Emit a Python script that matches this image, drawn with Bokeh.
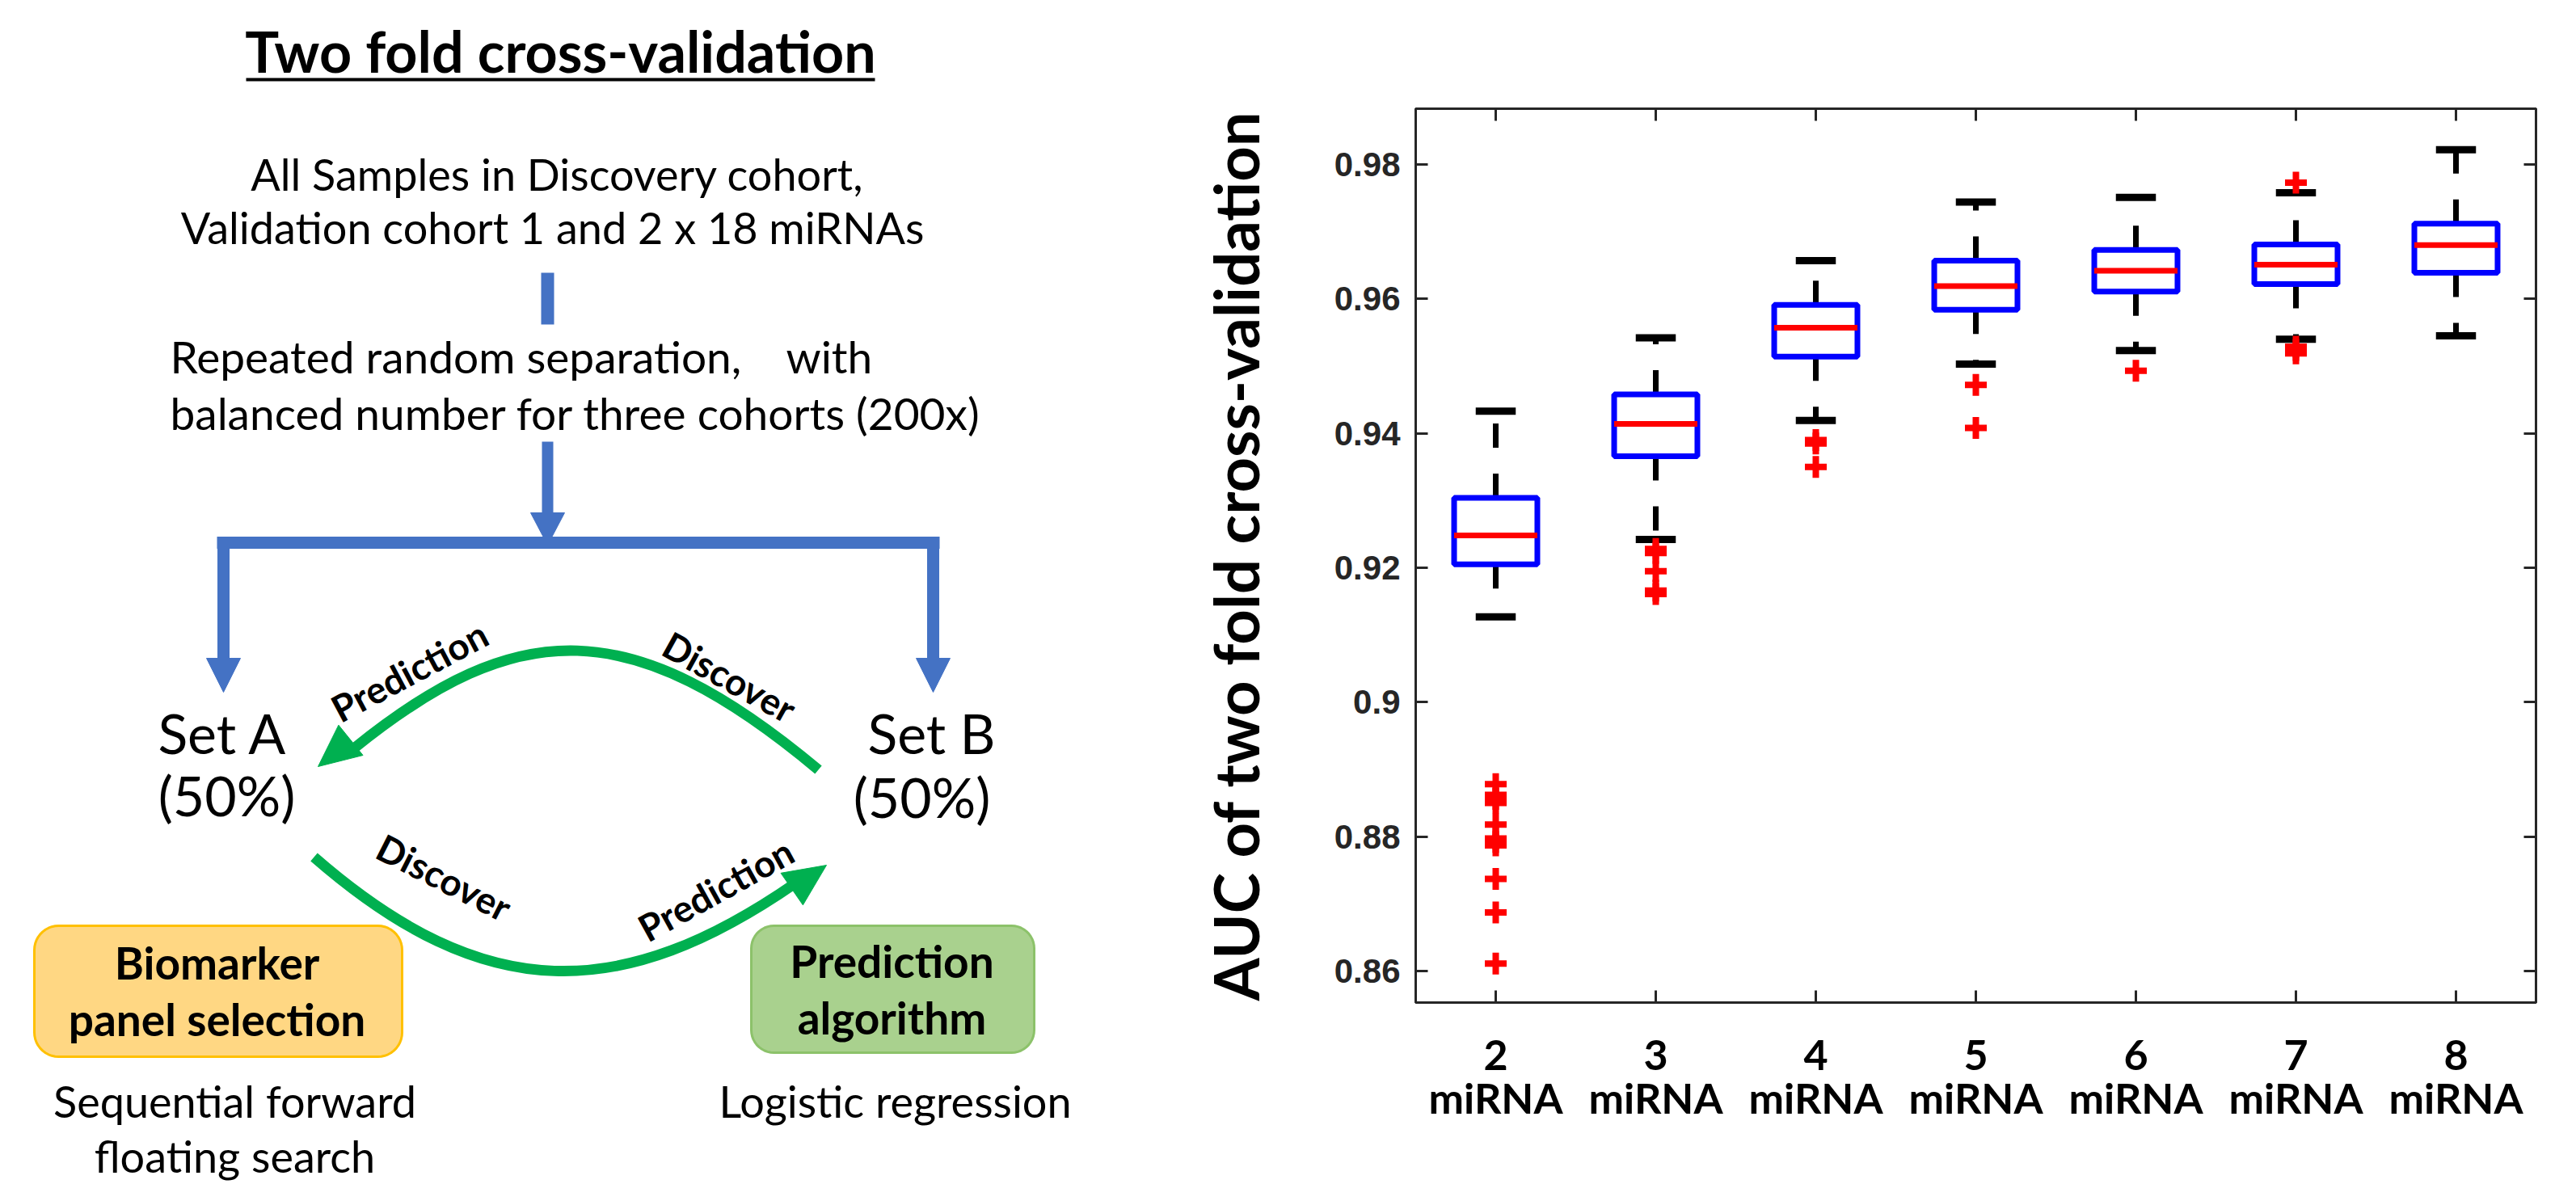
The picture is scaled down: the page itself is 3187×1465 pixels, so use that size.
import numpy as np
from bokeh.plotting import figure
from bokeh.layouts import row
from bokeh.models import Range1d, LinearAxis, FixedTicker, NumeralTickFormatter
from bokeh.core.properties import value
from bokeh.embed import file_html
from bokeh.resources import INLINE

# ---------------- data (box plot) ----------------
n_mirna = [2, 3, 4, 5, 6, 7, 8]
tick_numbers = ["2", "3", "4", "5", "6", "7", "8"]
tick_unit = "miRNA"
q1 = [0.9205, 0.9366, 0.9514, 0.9584, 0.9611, 0.9622, 0.9639]
median = [0.9248, 0.9414, 0.9557, 0.9619, 0.9642, 0.9651, 0.9680]
q3 = [0.9304, 0.9458, 0.9591, 0.9657, 0.9673, 0.9681, 0.9712]
whisker_low = [0.9127, 0.9242, 0.9419, 0.9503, 0.9523, 0.9540, 0.9545]
whisker_high = [0.9433, 0.9542, 0.9657, 0.9744, 0.9751, 0.9758, 0.9822]
outlier_group = [2] * 11 + [3] * 5 + [4] * 3 + [5] * 2 + [6] + [7] * 4
outlier_auc = [0.8878, 0.8862, 0.8856, 0.8850, 0.8818, 0.8797, 0.8792, 0.8787, 0.8737, 0.8687, 0.8611,
               0.9228, 0.9222, 0.9195, 0.9166, 0.9161,
               0.9390, 0.9385, 0.9350,
               0.9472, 0.9408,
               0.9493,
               0.9773, 0.9529, 0.9524, 0.9519]
y_ticks = [0.86, 0.88, 0.90, 0.92, 0.94, 0.96, 0.98]
y_label = "AUC of two fold cross-validation"

# ---------------- diagram texts ----------------
title_text = "Two fold cross-validation"
intro_lines = ["All Samples in Discovery cohort,", "Validation cohort 1 and 2 x 18 miRNAs"]
repeat_lines = ["Repeated random separation,\u00a0\u00a0\u00a0\u00a0with", "balanced number for three cohorts (200x)"]
set_a = ["Set A", "(50%)"]
set_b = ["Set B", "(50%)"]
box_a_lines = ["Biomarker", "panel selection"]
box_b_lines = ["Prediction", "algorithm"]
under_a = ["Sequential forward", "floating search"]
under_b = ["Logistic regression"]

BLUE = "#4472C4"
GREEN = "#00B050"
REG = value("Lato")

# ================= left: diagram =================
p1 = figure(width=1420, height=1465, x_range=Range1d(0, 1420), y_range=Range1d(1465, 0),
            output_backend="svg", toolbar_location=None, x_axis_location=None,
            y_axis_location=None, min_border=0, outline_line_color=None)
p1.grid.visible = False
p1.frame_align = False

def txt(x, y, s, size, bold=False, align="center", angle=0.0):
    p1.text(x=[x], y=[y], text=[s], text_font=REG, text_font_size=size,
            text_font_style="bold" if bold else "normal", text_align=align,
            text_baseline="middle", angle=angle, text_color="black")

txt(693, 62, title_text, "70px", bold=True)
p1.segment(x0=[304], y0=[98], x1=[1082], y1=[98], line_width=4, line_color="black")

txt(689, 215, intro_lines[0], "54px")
txt(683, 281, intro_lines[1], "54px")
txt(210, 440, repeat_lines[0], "55px", align="left")
txt(210, 510, repeat_lines[1], "55px", align="left")

txt(275, 906, set_a[0], "68px")
txt(280, 983, set_a[1], "68px")
txt(1152, 906, set_b[0], "68px")
txt(1140, 985, set_b[1], "68px")

def tri(tip, direction, length, half_w, color):
    d = np.array(direction, float)
    d /= np.linalg.norm(d)
    n = np.array([-d[1], d[0]])
    t = np.array(tip, float)
    b = t - d * length
    pts = [t, b + n * half_w, b - n * half_w]
    p1.patch(x=[q[0] for q in pts], y=[q[1] for q in pts], fill_color=color, line_color=color)

# blue connectors
p1.segment(x0=[677], y0=[337], x1=[677], y1=[401], line_width=16, line_color=BLUE)
p1.segment(x0=[677], y0=[546], x1=[677], y1=[640], line_width=14, line_color=BLUE)
tri((677, 674), (0, 1), 40, 21, BLUE)
p1.segment(x0=[268], y0=[671], x1=[1162], y1=[671], line_width=15, line_color=BLUE)
p1.segment(x0=[276], y0=[664], x1=[276], y1=[820], line_width=15, line_color=BLUE)
p1.segment(x0=[1154], y0=[664], x1=[1154], y1=[820], line_width=15, line_color=BLUE)
tri((276, 856), (0, 1), 42, 21, BLUE)
tri((1154, 856), (0, 1), 42, 21, BLUE)

# green curved arrows
p1.bezier(x0=[1012], y0=[952], x1=[438], y1=[925], cx0=[780], cy0=[758], cx1=[640], cy1=[762],
          line_width=13, line_color=GREEN)
tri((393, 948), (438 - 640, 925 - 762), 52, 24, GREEN)
p1.bezier(x0=[388], y0=[1060], x1=[984], y1=[1092], cx0=[600], cy0=[1245], cx1=[770], cy1=[1240],
          line_width=13, line_color=GREEN)
tri((1022, 1070), (984 - 770, 1092 - 1240), 52, 24, GREEN)

txt(506, 830, "Prediction", "46px", bold=True, angle=np.radians(28))
txt(902, 837, "Discover", "46px", bold=True, angle=np.radians(-29))
txt(549, 1085, "Discover", "46px", bold=True, angle=np.radians(-27))
txt(885, 1100, "Prediction", "46px", bold=True, angle=np.radians(29))

def rounded(x0, y0, x1, y1, r, fill, line):
    xs, ys = [], []
    corners = [(x1 - r, y0 + r, -90, 0), (x1 - r, y1 - r, 0, 90),
               (x0 + r, y1 - r, 90, 180), (x0 + r, y0 + r, 180, 270)]
    for cx, cy, a0, a1 in corners:
        a = np.radians(np.linspace(a0, a1, 12))
        xs.extend(cx + r * np.cos(a))
        ys.extend(cy + r * np.sin(a))
    p1.patch(x=xs, y=ys, fill_color=fill, line_color=line, line_width=3)

rounded(42, 1145, 497, 1307, 30, "#FFD783", "#FFC000")
rounded(929, 1145, 1279, 1302, 28, "#A9D18E", "#8CC26A")

txt(268, 1190, box_a_lines[0], "55px", bold=True)
txt(268, 1260, box_a_lines[1], "55px", bold=True)
txt(1103, 1188, box_b_lines[0], "55px", bold=True)
txt(1103, 1258, box_b_lines[1], "55px", bold=True)

txt(290, 1362, under_a[0], "54px")
txt(290, 1430, under_a[1], "54px")
txt(1107, 1362, under_b[0], "54px")

# ================= right: box plot =================
p2 = figure(width=1767, height=1465, x_range=Range1d(1.5, 8.5), y_range=Range1d(0.8553, 0.9883),
            output_backend="svg", toolbar_location=None, x_axis_location=None, y_axis_location=None,
            min_border_left=331, min_border_right=50, min_border_top=134, min_border_bottom=225)
p2.grid.visible = False
p2.outline_line_color = "#262626"
p2.outline_line_width = 3
p2.frame_align = False

AX = "#262626"

def style_axis(ax):
    ax.axis_line_color = AX
    ax.axis_line_width = 3
    ax.major_tick_line_color = AX
    ax.major_tick_line_width = 3
    ax.major_tick_in = 15
    ax.major_tick_out = 0
    ax.minor_tick_line_color = None

yl = LinearAxis(ticker=FixedTicker(ticks=y_ticks), formatter=NumeralTickFormatter(format="0.[00]"))
style_axis(yl)
yl.major_label_text_font = "Liberation Sans"
yl.major_label_text_font_style = "bold"
yl.major_label_text_font_size = "42px"
yl.major_label_text_color = AX
yl.major_label_standoff = 19
yl.axis_label = y_label
yl.axis_label_text_font = "Lato"
yl.axis_label_text_font_style = "bold"
yl.axis_label_text_font_size = "76px"
yl.axis_label_text_color = "black"
yl.axis_label_standoff = 74
p2.add_layout(yl, "left")

yr = LinearAxis(ticker=FixedTicker(ticks=y_ticks),
                major_label_overrides={t: "" for t in y_ticks})
style_axis(yr)
p2.add_layout(yr, "right")

xt = LinearAxis(ticker=FixedTicker(ticks=n_mirna),
                major_label_overrides={k: "" for k in n_mirna})
style_axis(xt)
p2.add_layout(xt, "above")

xb = LinearAxis(ticker=FixedTicker(ticks=n_mirna),
                major_label_overrides={k: s for k, s in zip(n_mirna, tick_numbers)})
style_axis(xb)
xb.major_label_text_font = "Lato"
xb.major_label_text_font_style = "bold"
xb.major_label_text_font_size = "52px"
xb.major_label_text_color = "black"
xb.major_label_standoff = 46
p2.add_layout(xb, "below")

xb2 = LinearAxis(ticker=FixedTicker(ticks=n_mirna),
                 major_label_overrides={k: tick_unit for k in n_mirna})
xb2.axis_line_color = None
xb2.major_tick_line_color = None
xb2.minor_tick_line_color = None
xb2.major_tick_in = 0
xb2.major_tick_out = 0
xb2.major_label_text_font = "Lato"
xb2.major_label_text_font_style = "bold"
xb2.major_label_text_font_size = "52px"
xb2.major_label_text_color = "black"
xb2.major_label_standoff = 0
p2.add_layout(xb2, "below")

bw = 0.26
cw = 0.125
left = [c - bw for c in n_mirna]
right = [c + bw for c in n_mirna]
cl = [c - cw for c in n_mirna]
cr = [c + cw for c in n_mirna]

p2.segment(x0=n_mirna, y0=q3, x1=n_mirna, y1=whisker_high, line_color="black", line_width=7,
           line_dash="30 32")
p2.segment(x0=n_mirna, y0=q1, x1=n_mirna, y1=whisker_low, line_color="black", line_width=7,
           line_dash="30 32")
p2.segment(x0=cl, y0=whisker_high, x1=cr, y1=whisker_high, line_color="black", line_width=9)
p2.segment(x0=cl, y0=whisker_low, x1=cr, y1=whisker_low, line_color="black", line_width=9)
p2.quad(left=left, right=right, bottom=q1, top=q3, fill_color=None, line_color="#0000FF",
        line_width=7)
p2.segment(x0=left, y0=median, x1=right, y1=median, line_color="#FF0000", line_width=7)
p2.scatter(x=outlier_group, y=outlier_auc, marker="cross", size=27, line_color="#FF0000",
           line_width=8)

layout = row(p1, p2)
open("out.html", "w").write(file_html(layout, INLINE))
